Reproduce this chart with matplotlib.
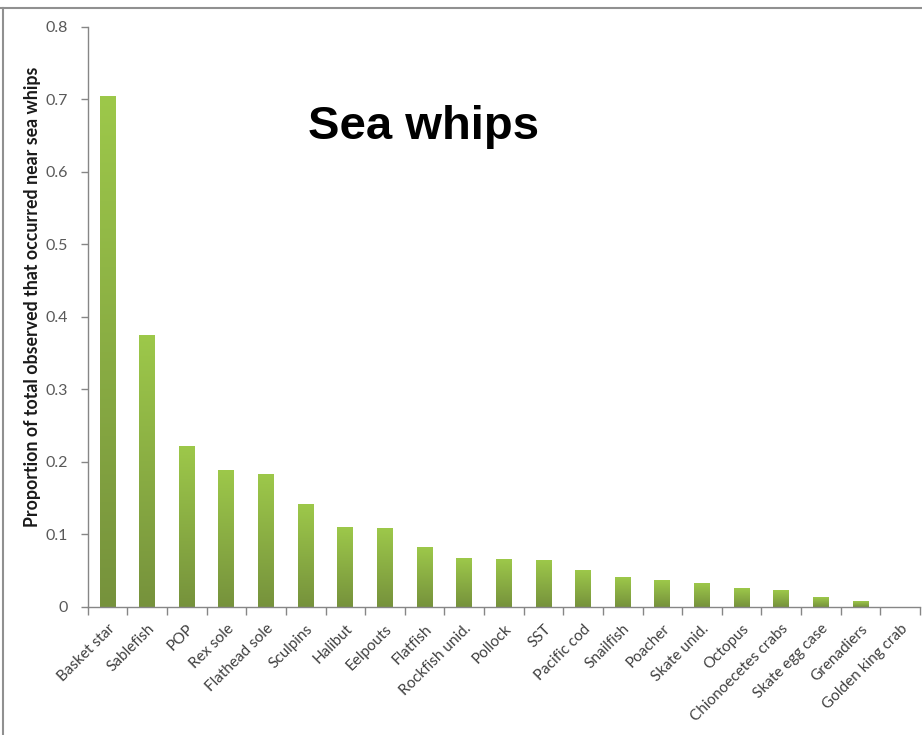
import matplotlib
matplotlib.use("Agg")
import matplotlib.pyplot as plt
import numpy as np
from matplotlib.colors import LinearSegmentedColormap
from matplotlib.patches import Rectangle
from matplotlib.lines import Line2D

categories = ["Basket star", "Sablefish", "POP", "Rex sole", "Flathead sole",
              "Sculpins", "Halibut", "Eelpouts", "Flatfish", "Rockfish unid.",
              "Pollock", "SST", "Pacific cod", "Snailfish", "Poacher",
              "Skate unid.", "Octopus", "Chionoecetes crabs", "Skate egg case",
              "Grenadiers", "Golden king crab"]
proportions = [0.705, 0.374, 0.221, 0.188, 0.183,
               0.141, 0.110, 0.108, 0.082, 0.067,
               0.066, 0.064, 0.050, 0.041, 0.037,
               0.032, 0.025, 0.023, 0.0125, 0.0075, 0.0]
y_ticks = [0, 0.1, 0.2, 0.3, 0.4, 0.5, 0.6, 0.7, 0.8]
y_tick_labels = ["0", "0.1", "0.2", "0.3", "0.4", "0.5", "0.6", "0.7", "0.8"]

W, H = 922, 735
fig = plt.figure(figsize=(W / 100, H / 100), dpi=100)
fig.patch.set_facecolor("white")

ax = fig.add_axes([87.7 / W, 1 - 606.5 / H, (920 - 87.7) / W, (606.5 - 26.7) / H])
ax.set_facecolor("white")

n = len(categories)
x = np.arange(n)
bar_w = 0.4

# vertical gradient: light green at the top, olive at the base
grad_cmap = LinearSegmentedColormap.from_list("greenfade", ["#76923c", "#9dc84a"])
grad = np.linspace(0, 1, 256).reshape(-1, 1)

bars = ax.bar(x, proportions, width=bar_w, color="none", edgecolor="none", zorder=2)
for rect, val in zip(bars, proportions):
    if val <= 0:
        continue
    x0 = rect.get_x()
    im = ax.imshow(grad, cmap=grad_cmap, aspect="auto", origin="lower",
                   extent=(x0, x0 + bar_w, 0, val), zorder=2,
                   interpolation="bilinear")
    clip = Rectangle((x0, 0), bar_w, val, transform=ax.transData)
    im.set_clip_path(clip)

ax.set_xlim(-0.5, n - 0.5)
ax.set_ylim(0, 0.8)

axis_gray = "#868686"
label_gray = "#595959"

for side in ("top", "right"):
    ax.spines[side].set_visible(False)
for side in ("left", "bottom"):
    ax.spines[side].set_color(axis_gray)
    ax.spines[side].set_linewidth(1.0)

ax.set_yticks(y_ticks)
ax.set_yticklabels(y_tick_labels, fontfamily="Lato", fontsize=11.5, color=label_gray)
ax.tick_params(axis="y", length=5, width=1, color=axis_gray, pad=9)

ax.set_xticks(x)
ax.set_xticklabels(categories, rotation=45, ha="right", rotation_mode="anchor",
                   fontfamily="Lato", fontsize=11, color="#404040")
ax.tick_params(axis="x", which="major", length=0, pad=11)
ax.set_xticks(np.arange(-0.5, n, 1.0), minor=True)
ax.tick_params(axis="x", which="minor", length=6, width=1, color=axis_gray)

fig.text(33 / W, 1 - 297 / H,
         "Proportion of total observed that occurred near sea whips",
         rotation=90, ha="center", va="center", fontfamily="Lato",
         fontweight="bold", fontsize=12.8, color="#1a1a1a")

fig.text(424 / W, 1 - 127 / H, "Sea whips", ha="center", va="center",
         fontfamily="Liberation Sans", fontweight="bold", fontsize=34, color="black")

# frame lines along the top and left of the figure
fig.add_artist(Line2D([0, 1], [1 - 7.5 / H, 1 - 7.5 / H], transform=fig.transFigure,
                      color="#909090", linewidth=1.5))
fig.add_artist(Line2D([2.5 / W, 2.5 / W], [0, 1 - 7.5 / H], transform=fig.transFigure,
                      color="#909090", linewidth=1.5))

fig.savefig("out.png", dpi=100, facecolor="white")
